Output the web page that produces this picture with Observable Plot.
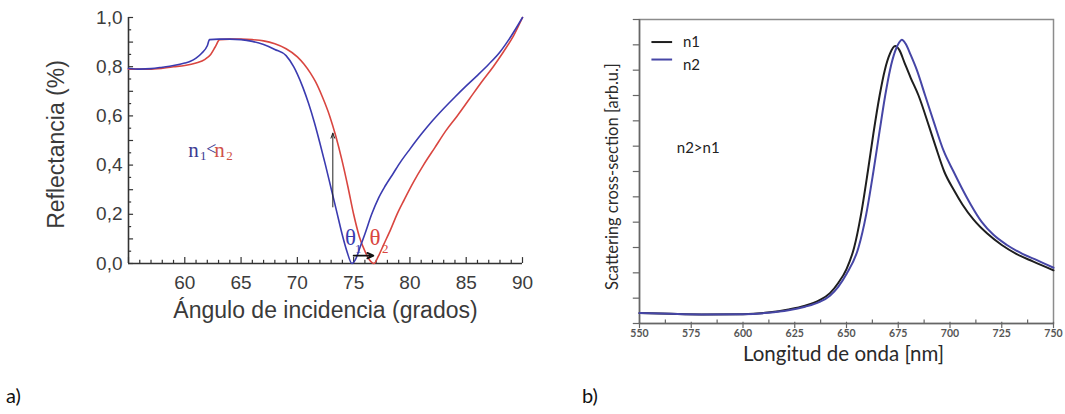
<!DOCTYPE html>
<html>
<head>
<meta charset="utf-8">
<script src="https://cdn.jsdelivr.net/npm/d3@7"></script>
<script src="https://cdn.jsdelivr.net/npm/@observablehq/plot@0.6"></script>
<style>
  html, body { margin: 0; padding: 0; background: #fff; }
  #page { position: relative; width: 1065px; height: 414px; overflow: hidden; background: #fff; }
  #page svg { position: absolute; top: 0; }
  .tag { position: absolute; font-family: Lato, "Open Sans", sans-serif; font-size: 20px; color: #111; }
</style>
</head>
<body>
<div id="page"></div>
<script>
// ---------- Panel a) data : reflectance vs angle ----------
const angleN1 = [55, 56, 57, 58, 59, 60, 60.5, 61, 61.5, 62, 62.2, 63, 64, 65, 66, 67, 68, 69, 69.67, 70, 70.5, 71, 71.5, 72, 72.5, 73, 73.5, 74, 74.4, 74.85, 75.2, 75.6, 76, 76.6, 77.2, 77.8, 78.5, 79.2, 80, 81, 82, 83, 84, 85, 86, 87, 88, 89, 90];
const reflN1  = [0.793, 0.79, 0.792, 0.798, 0.805, 0.815, 0.822, 0.835, 0.855, 0.885, 0.91, 0.912, 0.912, 0.91, 0.903, 0.89, 0.87, 0.845, 0.8, 0.77, 0.715, 0.65, 0.575, 0.49, 0.4, 0.305, 0.21, 0.115, 0.05, 0.0, 0.02, 0.07, 0.12, 0.2, 0.265, 0.315, 0.365, 0.415, 0.465, 0.525, 0.58, 0.63, 0.677, 0.722, 0.765, 0.81, 0.86, 0.925, 1.0];
const angleN2 = [55, 57, 59, 60, 61, 61.8, 62.3, 62.7, 63.1, 64, 65, 66, 67, 68, 69, 70, 70.6, 71.15, 71.6, 72.2, 72.87, 73.4, 73.96, 74.5, 75, 75.5, 76, 76.4, 76.8, 77.2, 77.7, 78.3, 78.85, 79.5, 80.3, 81.2, 82.2, 83.2, 84.2, 85.3, 86.4, 87.4, 88.3, 89.2, 90];
const reflN2  = [0.79, 0.79, 0.8, 0.805, 0.815, 0.83, 0.85, 0.88, 0.91, 0.912, 0.912, 0.91, 0.905, 0.893, 0.873, 0.84, 0.81, 0.775, 0.74, 0.68, 0.6, 0.52, 0.42, 0.31, 0.2, 0.11, 0.05, 0.015, 0.0, 0.03, 0.08, 0.14, 0.2, 0.26, 0.33, 0.4, 0.47, 0.54, 0.6, 0.67, 0.74, 0.8, 0.86, 0.925, 1.0];
const angleTicks = [60, 65, 70, 75, 80, 85, 90];
const reflTicks = [0, 0.2, 0.4, 0.6, 0.8, 1.0];

// ---------- Panel b) data : scattering cross-section vs wavelength ----------
const lambdaN1  = [550, 565, 580, 600, 612, 622, 630, 637, 642, 646, 650, 653.7, 657, 660.3, 663, 666, 668.5, 671, 673.5, 675.5, 678, 681, 684.8, 690, 693, 697.2, 702, 706, 711.4, 718, 725, 732, 740, 750];
const scatterN1 = [0.041, 0.038, 0.036, 0.037, 0.043, 0.055, 0.07, 0.092, 0.12, 0.16, 0.215, 0.3, 0.43, 0.6, 0.75, 0.9, 1.0, 1.065, 1.095, 1.08, 1.03, 0.97, 0.9, 0.775, 0.7, 0.6, 0.525, 0.47, 0.41, 0.355, 0.31, 0.275, 0.245, 0.21];
const lambdaN2  = [550, 565, 580, 600, 612, 622, 630, 637, 642, 646, 650, 655.8, 659.5, 663, 666, 668.7, 671, 673.5, 675.5, 676.7, 678.5, 681, 684, 688, 692, 697, 701.7, 706, 710, 715.4, 721, 727.5, 735, 742, 750];
const scatterN2 = [0.041, 0.038, 0.036, 0.037, 0.042, 0.052, 0.066, 0.085, 0.11, 0.145, 0.195, 0.3, 0.43, 0.6, 0.76, 0.9, 1.0, 1.075, 1.11, 1.12, 1.105, 1.06, 1.0, 0.9, 0.8, 0.68, 0.6, 0.53, 0.47, 0.4, 0.35, 0.31, 0.275, 0.25, 0.22];
const lambdaTicks = [550, 575, 600, 625, 650, 675, 700, 725, 750];
const seriesNames = ["n1", "n2"];

// ---------- build ----------
const toRows = (xs, ys) => xs.map((x, i) => ({x, y: ys[i]}));
const blue = "#3b3bb0", red = "#d94640";
const black = "#1e1e1e", slate = "#4646a6";
const comma = d => d.toFixed(1).replace(".", ",");
const serif = '"Liberation Serif", "Times New Roman", serif';
const page = document.getElementById("page");

// ----- Panel a -----
const angleMinor = d3.range(55, 90.001, 1);
const reflMinor = d3.range(0, 1.0001, 0.05).map(v => +v.toFixed(2));
const plotA = Plot.plot({
  width: 540, height: 340,
  marginLeft: 128, marginRight: 18, marginTop: 17, marginBottom: 77,
  x: {domain: [55, 90]},
  y: {domain: [0, 1]},
  style: {fontFamily: '"Liberation Sans", Arial, sans-serif', fontSize: "19px", background: "white"},
  marks: [
    Plot.ruleY([0], {x1: 55, x2: 90, stroke: "#333", strokeWidth: 1.6}),
    Plot.ruleX([55], {y1: 0, y2: 1, stroke: "#333", strokeWidth: 1.6}),
    Plot.ruleX(angleMinor, {x: d => d, y1: 0, y2: d => (d % 5 === 0 ? 0.024 : 0.013), stroke: "#333", strokeWidth: 1.2}),
    Plot.ruleY(reflMinor, {y: d => d, x1: 55, x2: d => (Math.round(d * 100) % 10 === 0 ? 55.45 : 55.28), stroke: "#333", strokeWidth: 1.2}),
    Plot.axisX({ticks: angleTicks, tickSize: 0, tickPadding: 12, color: "#3c3c3c", label: null, tickFormat: d => String(d)}),
    Plot.axisY({ticks: reflTicks, tickSize: 0, tickPadding: 6, color: "#3c3c3c", label: null, tickFormat: comma}),
    Plot.text(["Ángulo de incidencia (grados)"], {frameAnchor: "bottom", dy: 54, fontSize: 23, fill: "#3a3a3a"}),
    Plot.text(["Reflectancia (%)"], {frameAnchor: "left", textAnchor: "middle", rotate: -90, dx: -72, dy: 4, fontSize: 23, fill: "#3a3a3a"}),
    Plot.line(toRows(angleN2, reflN2), {x: "x", y: "y", stroke: red, strokeWidth: 1.6, curve: "monotone-x"}),
    Plot.line(toRows(angleN1, reflN1), {x: "x", y: "y", stroke: blue, strokeWidth: 1.6, curve: "monotone-x"}),
    Plot.arrow([{x1: 73.15, y1: 0.23, x2: 73.15, y2: 0.53}], {x1: "x1", y1: "y1", x2: "x2", y2: "y2", stroke: "#222", strokeWidth: 1, headLength: 8, headAngle: 40}),
    Plot.arrow([{x1: 75.0, y1: 0.032, x2: 76.75, y2: 0.032}], {x1: "x1", y1: "y1", x2: "x2", y2: "y2", stroke: "#111", strokeWidth: 1.8, headLength: 6, headAngle: 50}),
    // n1<n2 label
    Plot.text(["n"], {x: 60.31, y: 0.459, textAnchor: "start", fontFamily: serif, fontSize: 21, fill: "#3d3a92"}),
    Plot.text(["1"], {x: 61.35, y: 0.436, textAnchor: "start", fontFamily: serif, fontSize: 13, fill: "#3d3a92"}),
    Plot.text(["<"], {x: 61.9, y: 0.463, textAnchor: "start", fontFamily: serif, fontSize: 18, fill: "#3d3a92"}),
    Plot.text(["n"], {x: 62.62, y: 0.459, textAnchor: "start", fontFamily: serif, fontSize: 21, fill: "#cf5048"}),
    Plot.text(["2"], {x: 63.68, y: 0.436, textAnchor: "start", fontFamily: serif, fontSize: 13, fill: "#cf5048"}),
    // theta labels
    Plot.text(["θ"], {x: 74.72, y: 0.105, fontFamily: serif, fontSize: 23, fill: blue}),
    Plot.text(["1"], {x: 75.4, y: 0.058, fontFamily: serif, fontSize: 13, fill: blue}),
    Plot.text(["θ"], {x: 76.9, y: 0.105, fontFamily: serif, fontSize: 23, fill: red}),
    Plot.text(["2"], {x: 77.8, y: 0.058, fontFamily: serif, fontSize: 13, fill: red})
  ]
});
plotA.style.left = "0px";
page.appendChild(plotA);

// ----- Panel b -----
const lambdaMinor = d3.range(562.5, 750, 25);
const scatterTicks = d3.range(0, 1.2001, 0.1).map(v => +v.toFixed(1));
const plotB = Plot.plot({
  width: 525, height: 370,
  marginLeft: 99, marginRight: 12, marginTop: 19, marginBottom: 47,
  x: {domain: [550, 750]},
  y: {domain: [0, 1.2], axis: null},
  style: {fontFamily: 'Lato, "Open Sans", sans-serif', fontSize: "10.5px", background: "white"},
  marks: [
    Plot.frame({stroke: "#8c8c8c", strokeWidth: 1.5}),
    Plot.ruleY([0], {x1: 550, x2: 750, stroke: "#666", strokeWidth: 1.5}),
    Plot.ruleX([550], {y1: 0, y2: 1.2, stroke: "#666", strokeWidth: 1.5}),
    Plot.ruleX(lambdaTicks, {x: d => d, y1: -0.02, y2: 0.005, stroke: "#666", strokeWidth: 1.2}),
    Plot.ruleX(lambdaMinor, {x: d => d, y1: 0, y2: 0.014, stroke: "#666", strokeWidth: 1.2}),
    Plot.ruleY(scatterTicks, {y: d => d, x1: 547, x2: 550, stroke: "#666", strokeWidth: 1.2}),
    Plot.axisX({ticks: lambdaTicks, tickSize: 0, tickPadding: 6, color: "#555", fontWeight: "bold", label: null, tickFormat: d => String(d)}),
    Plot.text(["Longitud de onda [nm]"], {frameAnchor: "bottom", dy: 37, dx: -3, fontSize: 20.5, fill: "#2a2a2a"}),
    Plot.text(["Scattering cross-section [arb.u.]"], {frameAnchor: "left", textAnchor: "middle", rotate: -90, dx: -27, dy: 5, fontSize: 16.5, fill: "#2a2a2a"}),
    Plot.line(toRows(lambdaN1, scatterN1), {x: "x", y: "y", stroke: black, strokeWidth: 2, curve: "monotone-x"}),
    Plot.line(toRows(lambdaN2, scatterN2), {x: "x", y: "y", stroke: slate, strokeWidth: 2, curve: "monotone-x"}),
    // legend
    Plot.ruleY([1.111], {x1: 556, x2: 566, stroke: black, strokeWidth: 2}),
    Plot.ruleY([1.042], {x1: 556, x2: 566, stroke: slate, strokeWidth: 2}),
    Plot.text([seriesNames[0]], {x: 571, y: 1.11, textAnchor: "start", fontSize: 15, fill: "#222"}),
    Plot.text([seriesNames[1]], {x: 571, y: 1.02, textAnchor: "start", fontSize: 15, fill: "#222"}),
    Plot.text(["n2>n1"], {x: 568, y: 0.691, textAnchor: "start", fontSize: 15, fill: "#222"})
  ]
});
plotB.style.left = "540px";
page.appendChild(plotB);

// panel tags
const tagA = document.createElement("div");
tagA.className = "tag"; tagA.textContent = "a)";
tagA.style.left = "6px"; tagA.style.top = "383px";
page.appendChild(tagA);
const tagB = document.createElement("div");
tagB.className = "tag"; tagB.textContent = "b)";
tagB.style.left = "582px"; tagB.style.top = "383px";
page.appendChild(tagB);
</script>
</body>
</html>
